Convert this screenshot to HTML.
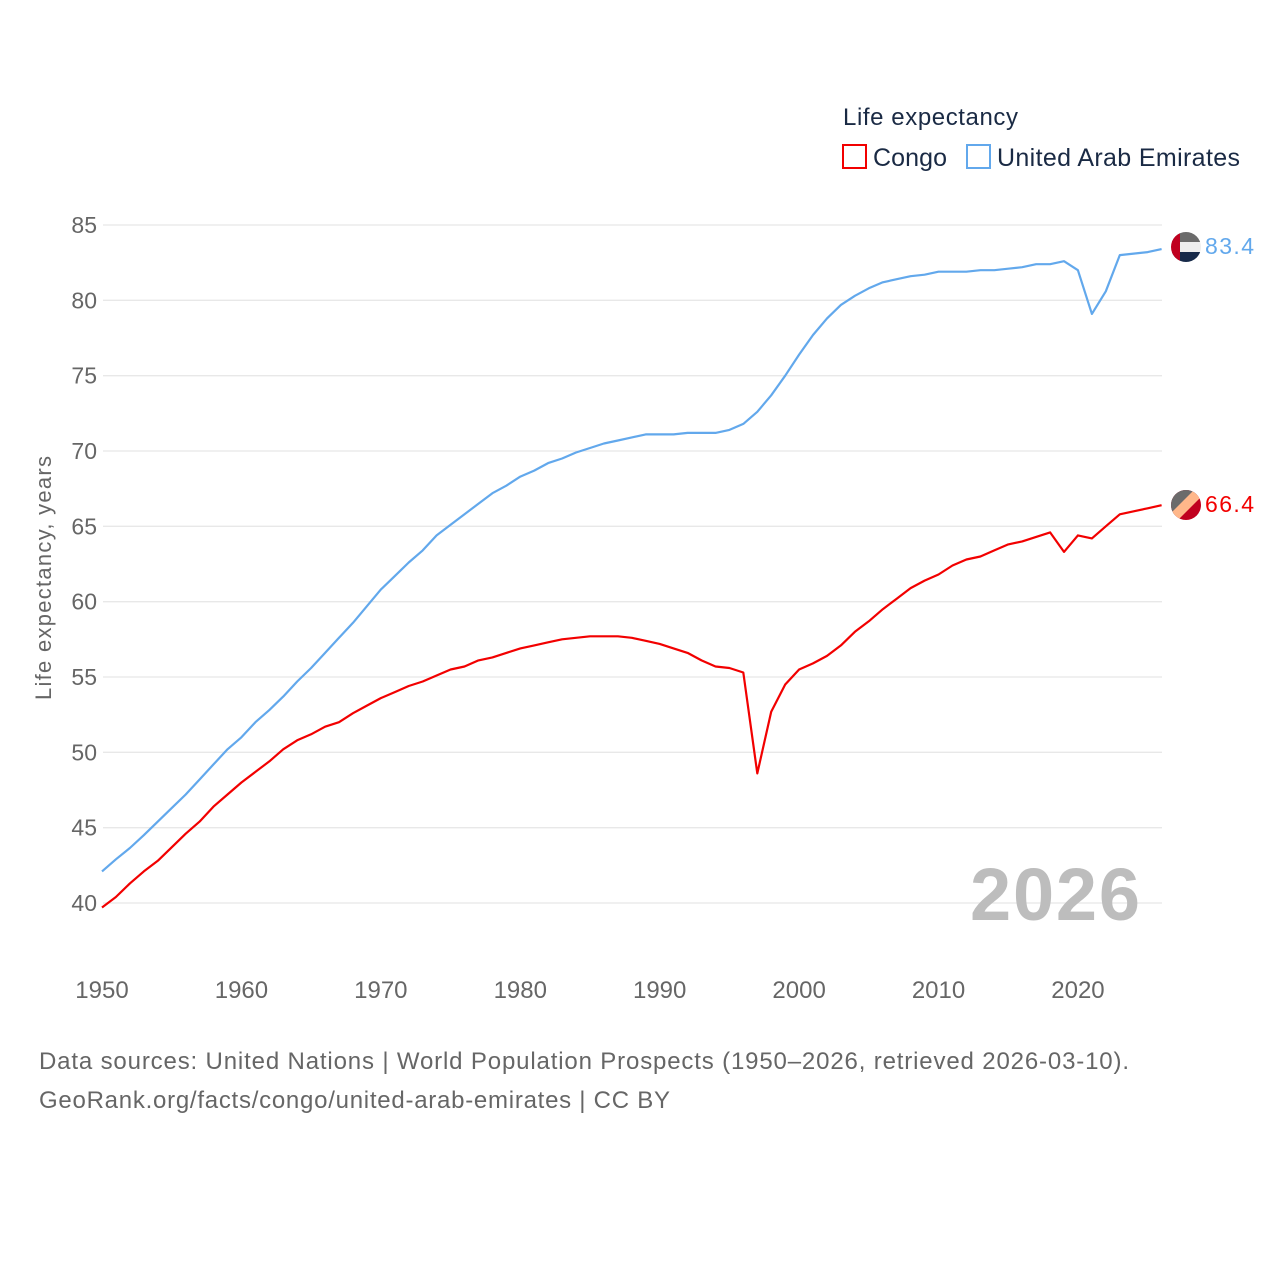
<!DOCTYPE html>
<html><head><meta charset="utf-8"><style>
html,body{margin:0;padding:0;background:#fff;}
body{width:1280px;height:1280px;overflow:hidden;font-family:"Liberation Sans",sans-serif;}
</style></head><body>
<svg id="chart" width="1280" height="1280" xmlns="http://www.w3.org/2000/svg" style="font-family:'Liberation Sans',sans-serif">
<g id="legend">
  <text x="843" y="125" font-size="24" fill="#1a2a44" textLength="175">Life expectancy</text>
  <rect x="843" y="145" width="23" height="23" fill="none" stroke="#f20000" stroke-width="2"/>
  <text x="873" y="166" font-size="25" fill="#1a2a44" textLength="74">Congo</text>
  <rect x="967" y="145" width="23" height="23" fill="none" stroke="#62a8ec" stroke-width="2"/>
  <text x="997" y="166" font-size="25" fill="#1a2a44" textLength="243">United Arab Emirates</text>
</g>
<g id="grid"></g>
<g id="yticks"></g>
<g id="xticks"></g>
<text transform="translate(51,578) rotate(-90)" text-anchor="middle" font-size="22" fill="#666" textLength="244">Life expectancy, years</text>
<text x="1140" y="920" text-anchor="end" font-size="74" font-weight="bold" fill="#bdbdbd" textLength="170">2026</text>
<g id="series"></g>
<g>
  <clipPath id="c1"><circle cx="1186" cy="247" r="15"/></clipPath>
  <g clip-path="url(#c1)">
    <rect x="1171" y="232" width="30" height="10" fill="#6b6b6b"/>
    <rect x="1171" y="242" width="30" height="10" fill="#eeeeee"/>
    <rect x="1171" y="252" width="30" height="10" fill="#172a4a"/>
    <rect x="1171" y="232" width="9" height="30" fill="#c0001f"/>
  </g>
</g>
<g>
  <clipPath id="c2"><circle cx="1186" cy="505" r="15"/></clipPath>
  <g clip-path="url(#c2)">
    <rect x="1171" y="490" width="30" height="30" fill="#c0001f"/>
    <polygon points="1171,490 1201,490 1171,520" fill="#6b6b6b"/>
    <polygon points="1194,490 1201,490 1201,497 1178,520 1171,520 1171,513" fill="#ffb78a"/>
  </g>
</g>
<text x="1205" y="254" font-size="23" fill="#62a8ec" textLength="49">83.4</text>
<text x="1205" y="512" font-size="23" fill="#f20000" textLength="49">66.4</text>
<text x="39" y="1069" font-size="24" fill="#666" textLength="1090">Data sources: United Nations | World Population Prospects (1950–2026, retrieved 2026-03-10).</text>
<text x="39" y="1108" font-size="24" fill="#666" textLength="631">GeoRank.org/facts/congo/united-arab-emirates | CC BY</text>
</svg>
<script>
const startYear = 1950;
const yTicks = [40,45,50,55,60,65,70,75,80,85];
const xTicks = [1950,1960,1970,1980,1990,2000,2010,2020];
const uaeValues = [42.1,42.9,43.65,44.5,45.4,46.3,47.2,48.2,49.2,50.2,51.0,52.0,52.8,53.7,54.7,55.6,56.6,57.6,58.6,59.7,60.8,61.7,62.6,63.4,64.4,65.1,65.8,66.5,67.2,67.7,68.3,68.7,69.2,69.5,69.9,70.2,70.5,70.7,70.9,71.1,71.1,71.1,71.2,71.2,71.2,71.4,71.8,72.6,73.7,75.0,76.4,77.7,78.8,79.7,80.3,80.8,81.2,81.4,81.6,81.7,81.9,81.9,81.9,82.0,82.0,82.1,82.2,82.4,82.4,82.6,82.0,79.1,80.6,83.0,83.1,83.2,83.4];
const congoValues = [39.7,40.4,41.3,42.1,42.8,43.7,44.6,45.4,46.4,47.2,48.0,48.7,49.4,50.2,50.8,51.2,51.7,52.0,52.6,53.1,53.6,54.0,54.4,54.7,55.1,55.5,55.7,56.1,56.3,56.6,56.9,57.1,57.3,57.5,57.6,57.7,57.7,57.7,57.6,57.4,57.2,56.9,56.6,56.1,55.7,55.6,55.3,48.6,52.7,54.5,55.5,55.9,56.4,57.1,58.0,58.7,59.5,60.2,60.9,61.4,61.8,62.4,62.8,63.0,63.4,63.8,64.0,64.3,64.6,63.3,64.4,64.2,65.0,65.8,66.0,66.2,66.4];
const NS='http://www.w3.org/2000/svg';
const X0=102, X1=1161.6, Y0=903, Y1=225;
function xs(yr){return X0+(yr-1950)/(2026-1950)*(X1-X0);}
function ys(v){return Y0+(v-40)/(85-40)*(Y1-Y0);}
const grid=document.getElementById('grid'), yt=document.getElementById('yticks'), xt=document.getElementById('xticks'), ser=document.getElementById('series');
yTicks.forEach(t=>{
  const l=document.createElementNS(NS,'line');
  
  
  l.setAttribute('x1',103);l.setAttribute('x2',1162);l.setAttribute('y1',ys(t));l.setAttribute('y2',ys(t));
  l.setAttribute('stroke','#e8e8e8');l.setAttribute('stroke-width','1.3');
  grid.appendChild(l);
  const tx=document.createElementNS(NS,'text');
  
  
  tx.setAttribute('x',97);tx.setAttribute('y',ys(t)+8);tx.setAttribute('text-anchor','end');
  tx.setAttribute('font-size','23');tx.setAttribute('fill','#666');tx.textContent=t;
  yt.appendChild(tx);
});
xTicks.forEach(t=>{
  const tx=document.createElementNS(NS,'text');
  
  
  tx.setAttribute('x',xs(t));tx.setAttribute('y',998);tx.setAttribute('text-anchor','middle');
  tx.setAttribute('font-size','24');tx.setAttribute('fill','#666');tx.textContent=t;
  xt.appendChild(tx);
});
function line(vals,color,name){
  const p=document.createElementNS(NS,'polyline');
  
  
  p.setAttribute('points',vals.map((v,i)=>xs(startYear+i).toFixed(1)+','+ys(v).toFixed(1)).join(' '));
  p.setAttribute('fill','none');p.setAttribute('stroke',color);p.setAttribute('stroke-width','2.2');p.setAttribute('stroke-linejoin','round');
  ser.appendChild(p);
}
line(uaeValues,'#62a8ec','uae-line');
line(congoValues,'#f20000','congo-line');
</script>
</body></html>
